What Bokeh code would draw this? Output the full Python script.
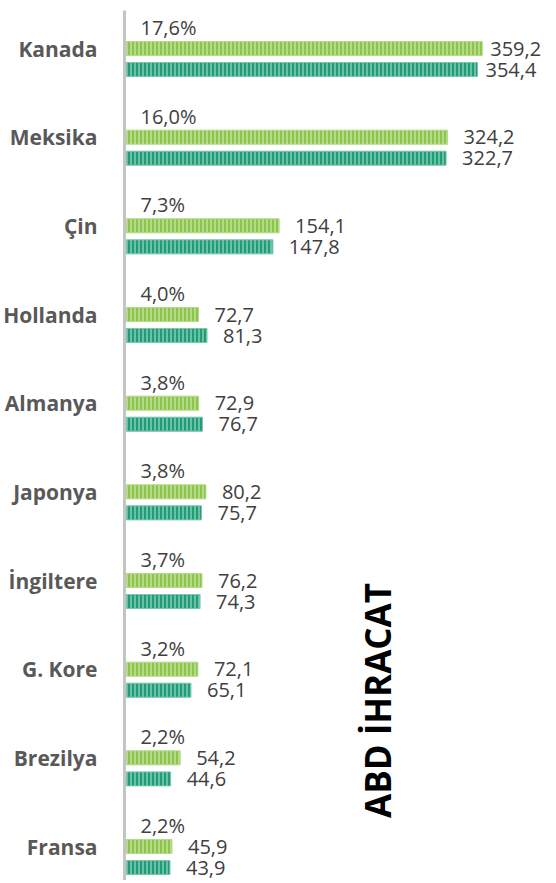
from bokeh.plotting import figure
from bokeh.models import ColumnDataSource, Range1d, FixedTicker, Label
from bokeh.core.properties import value
from bokeh.embed import file_html
from bokeh.resources import INLINE

countries = ["Kanada", "Meksika", "Çin", "Hollanda", "Almanya", "Japonya",
             "İngiltere", "G. Kore", "Brezilya", "Fransa"]
shares = [17.6, 16.0, 7.3, 4.0, 3.8, 3.8, 3.7, 3.2, 2.2, 2.2]
series_light = [359.2, 324.2, 154.1, 72.7, 72.9, 80.2, 76.2, 72.1, 54.2, 45.9]
series_dark = [354.4, 322.7, 147.8, 81.3, 76.7, 75.7, 74.3, 65.1, 44.6, 43.9]
title_text = "ABD İHRACAT"

def fmt(v, pct=False):
    s = f"{v:.1f}".replace(".", ",")
    return s + "%" if pct else s

idx = list(range(len(countries)))
off = 0.237
bar_h = 0.158
vmax = max(series_light + series_dark)

src_light = ColumnDataSource(dict(
    y=idx, v=series_light, lab=[fmt(v) for v in series_light],
    xo=[8 if v >= 0.95 * vmax else 16 for v in series_light]))
src_dark = ColumnDataSource(dict(
    y=[i + off for i in idx], v=series_dark, lab=[fmt(v) for v in series_dark],
    xo=[8 if v >= 0.95 * vmax else 16 for v in series_dark]))
src_pct = ColumnDataSource(dict(
    y=[i - off for i in idx], x=[0] * len(idx), lab=[fmt(s, True) for s in shares]))

p = figure(width=548, height=880, output_backend="svg", toolbar_location=None,
           x_range=Range1d(-2, 426.1), y_range=Range1d(9.383, -0.4286),
           min_border_left=113, min_border_right=0, min_border_top=10, min_border_bottom=0)
p.outline_line_color = None
p.grid.visible = False
p.xaxis.visible = False
p.background_fill_color = "white"

p.hbar(y="y", left=0, right="v", height=bar_h, source=src_light,
       fill_color="#8DC44A", line_color="#b3d98a", line_width=1,
       hatch_pattern="|", hatch_scale=4, hatch_weight=1.6, hatch_color="#bfe09a")
p.hbar(y="y", left=0, right="v", height=bar_h, source=src_dark,
       fill_color="#1F9C78", line_color="#7cc6ad", line_width=1,
       hatch_pattern="|", hatch_scale=4, hatch_weight=1.6, hatch_color="#7fcab0")

for src in (src_light, src_dark):
    p.text(x="v", y="y", text="lab", source=src, x_offset="xo",
           text_baseline="middle", text_align="left",
           text_font=value("Open Sans"), text_font_size="20px", text_color="#404040")

p.text(x="x", y="y", text="lab", source=src_pct, x_offset=14,
       text_baseline="middle", text_align="left",
       text_font=value("Open Sans"), text_font_size="20px", text_color="#404040")

ax = p.yaxis[0]
ax.ticker = FixedTicker(ticks=idx)
ax.major_label_overrides = {i: c for i, c in zip(idx, countries)}
ax.major_tick_out = 0
ax.major_tick_in = 0
ax.minor_tick_out = 0
ax.minor_tick_in = 0
ax.axis_line_width = 3
ax.axis_line_color = "#c4c4c4"
ax.major_label_standoff = 27
ax.major_label_text_font = "Open Sans"
ax.major_label_text_font_style = "bold"
ax.major_label_text_font_size = "21px"
ax.major_label_text_color = "#595959"

p.add_layout(Label(x=253, y=180, x_units="screen", y_units="screen", text=title_text,
                   angle=1.5708, text_font="Open Sans", text_font_style="bold",
                   text_font_size="35px", text_color="#000000",
                   text_baseline="middle", text_align="center"))

open("out.html", "w").write(file_html(p, INLINE))
